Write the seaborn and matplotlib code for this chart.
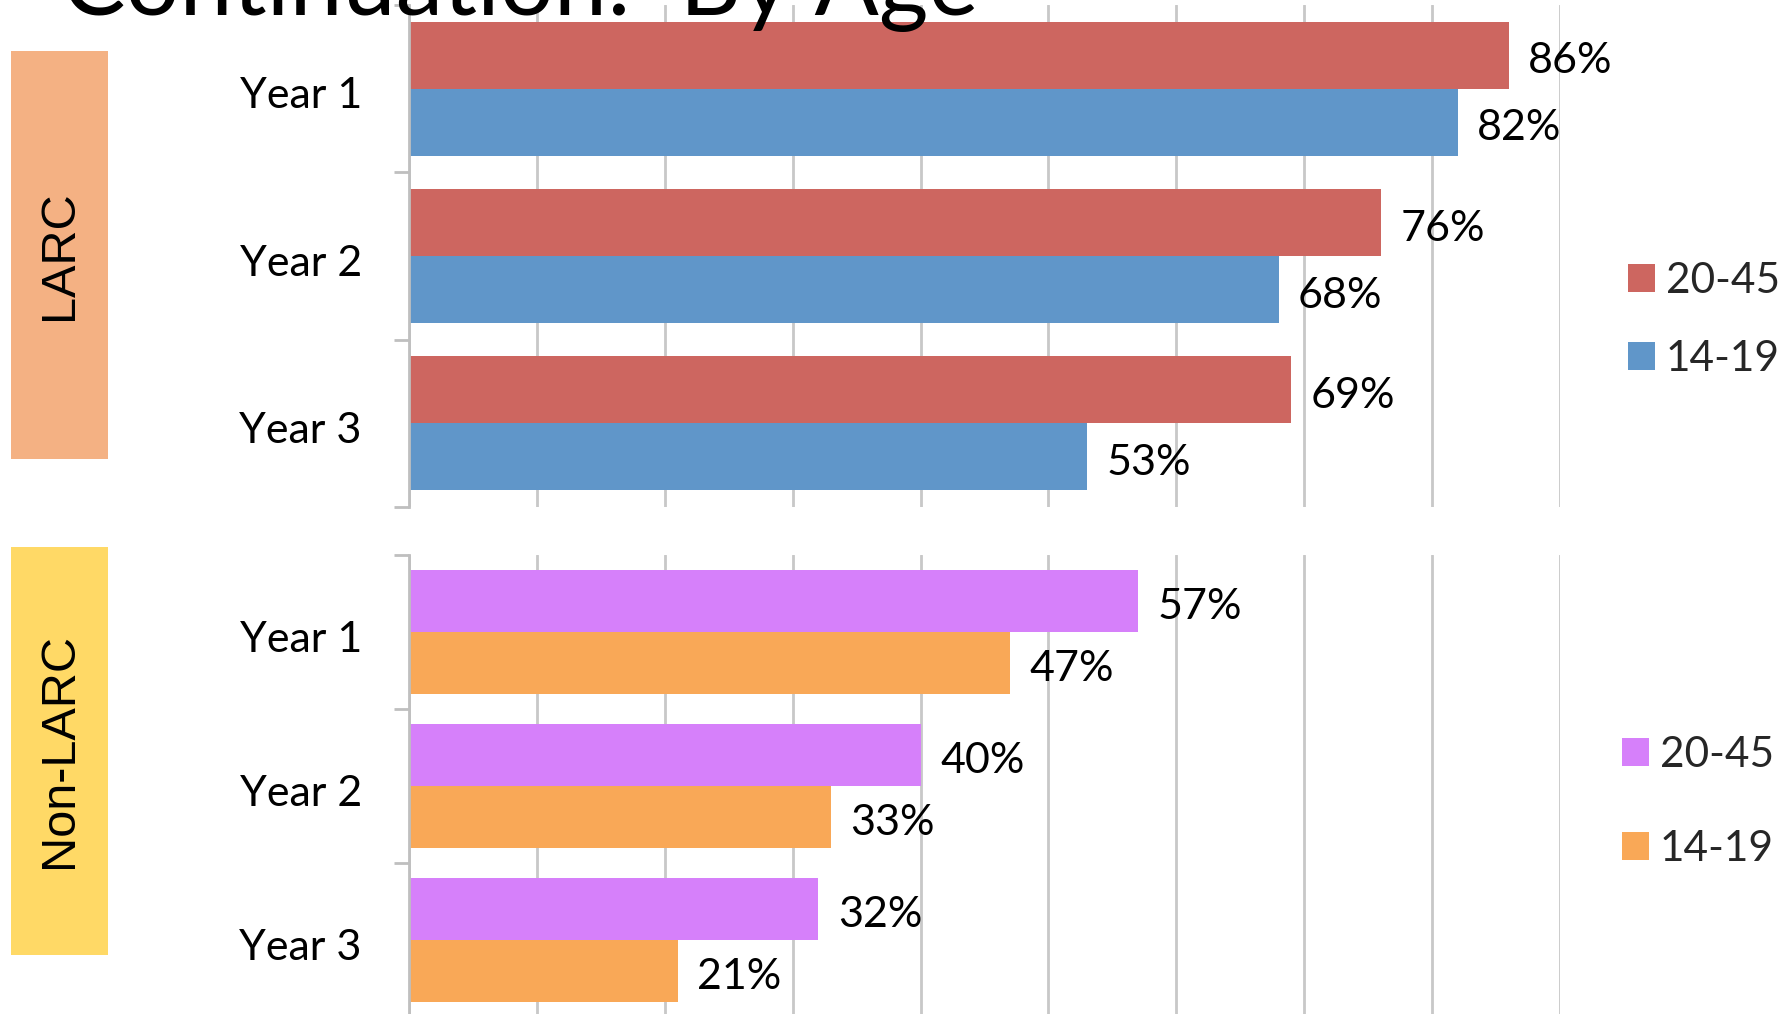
import matplotlib
matplotlib.use("Agg")
import matplotlib.pyplot as plt
import matplotlib.transforms as mtransforms
import seaborn as sns
import pandas as pd
from matplotlib.patches import Rectangle, Patch
from matplotlib.ticker import FixedLocator, MultipleLocator

# Continuation rates (%) by year of use and age group
years = ["Year 1", "Year 2", "Year 3"]
age_groups = ["20-45", "14-19"]
larc_20_45 = [86, 76, 69]
larc_14_19 = [82, 68, 53]
non_larc_20_45 = [57, 40, 32]
non_larc_14_19 = [47, 33, 21]

larc_colors = ["#CD6660", "#6096C9"]
non_larc_colors = ["#D680FA", "#F9A857"]
group_names = ["LARC", "Non-LARC"]
group_box_colors = ["#F4B183", "#FFD966"]


def frame(older, younger):
    return pd.DataFrame({
        "year": years * 2,
        "age": [age_groups[0]] * len(years) + [age_groups[1]] * len(years),
        "pct": older + younger,
    })


sns.set_theme(style="white")
plt.rcParams["font.family"] = ["Lato", "DejaVu Sans"]

W, H = 1786, 1014
fig = plt.figure(figsize=(W / 100, H / 100), dpi=100)


def px_axes(left, top, right, bottom):
    return fig.add_axes([left / W, 1 - bottom / H, (right - left) / W, (bottom - top) / H])


GRID = "#C8C8C8"
FS = 31
down = mtransforms.ScaledTranslation(0, -4 / 100, fig.dpi_scale_trans)


def draw_panel(ax, df, colors, legend_x, legend_y, spacing):
    sns.barplot(data=df, x="pct", y="year", hue="age", hue_order=age_groups,
                palette=colors, orient="h", width=0.8, saturation=1,
                legend=False, linewidth=0, ax=ax)
    ax.set_xlim(0, 90)
    ax.set_ylim(len(years) - 0.5, -0.5)
    ax.xaxis.set_major_locator(MultipleLocator(10))
    ax.grid(axis="x", color=GRID, lw=2)
    ax.grid(axis="y", visible=False)
    ax.set_axisbelow(True)
    ax.tick_params(axis="x", length=0, labelbottom=False)
    ax.set_xlabel("")
    ax.set_ylabel("")
    for side in ("top", "right", "bottom"):
        ax.spines[side].set_visible(False)
    ax.spines["left"].set_color("#BFBFBF")
    ax.spines["left"].set_linewidth(2)
    ax.set_yticks(range(len(years)))
    ax.set_yticklabels(years)
    ax.tick_params(axis="y", which="major", length=0, pad=34, labelsize=FS,
                   labelcolor="black")
    for lab in ax.get_yticklabels():
        lab.set_transform(lab.get_transform() + down)
    ax.yaxis.set_minor_locator(FixedLocator([i - 0.5 for i in range(len(years) + 1)]))
    ax.tick_params(axis="y", which="minor", left=True, length=11, width=2,
                   color="#BFBFBF", direction="out")
    for cont in ax.containers:
        texts = ax.bar_label(cont, fmt="{:.0f}%", padding=14, fontsize=FS, color="black")
        for t in texts:
            t.xyann = (14, -4.5)
    handles = [Patch(facecolor=c, edgecolor="none") for c in colors]
    fig.legend(handles, age_groups, loc="center left",
               bbox_to_anchor=(legend_x / W, legend_y), frameon=False, fontsize=30.5,
               handlelength=0.64, handleheight=0.64, handletextpad=0.25,
               labelspacing=spacing, borderpad=0, borderaxespad=0)


ax_top = px_axes(409, 5, 1560, 507)
ax_bot = px_axes(409, 555, 1560, 1017)
draw_panel(ax_top, frame(larc_20_45, larc_14_19), larc_colors, 1628, 1 - 320 / H, 0.95)
draw_panel(ax_bot, frame(non_larc_20_45, non_larc_14_19), non_larc_colors, 1622, 1 - 802 / H, 1.32)

# group boxes on the left
for (top, bottom), name, col in zip([(51, 459), (547, 955)], group_names, group_box_colors):
    fig.add_artist(Rectangle((11 / W, 1 - bottom / H), 97 / W, (bottom - top) / H,
                             transform=fig.transFigure, facecolor=col,
                             edgecolor="none", zorder=0))
    fig.text(60 / W, 1 - (top + bottom) / 2 / H, name, rotation=90,
             ha="center", va="center", fontsize=35,
             family=["Liberation Sans", "DejaVu Sans"], color="black")

fig.text(62 / W, 1 - 15 / H, "Continuation:  By Age", fontsize=68.5,
         ha="left", va="baseline", color="black")

fig.savefig("out.png", dpi=100)
